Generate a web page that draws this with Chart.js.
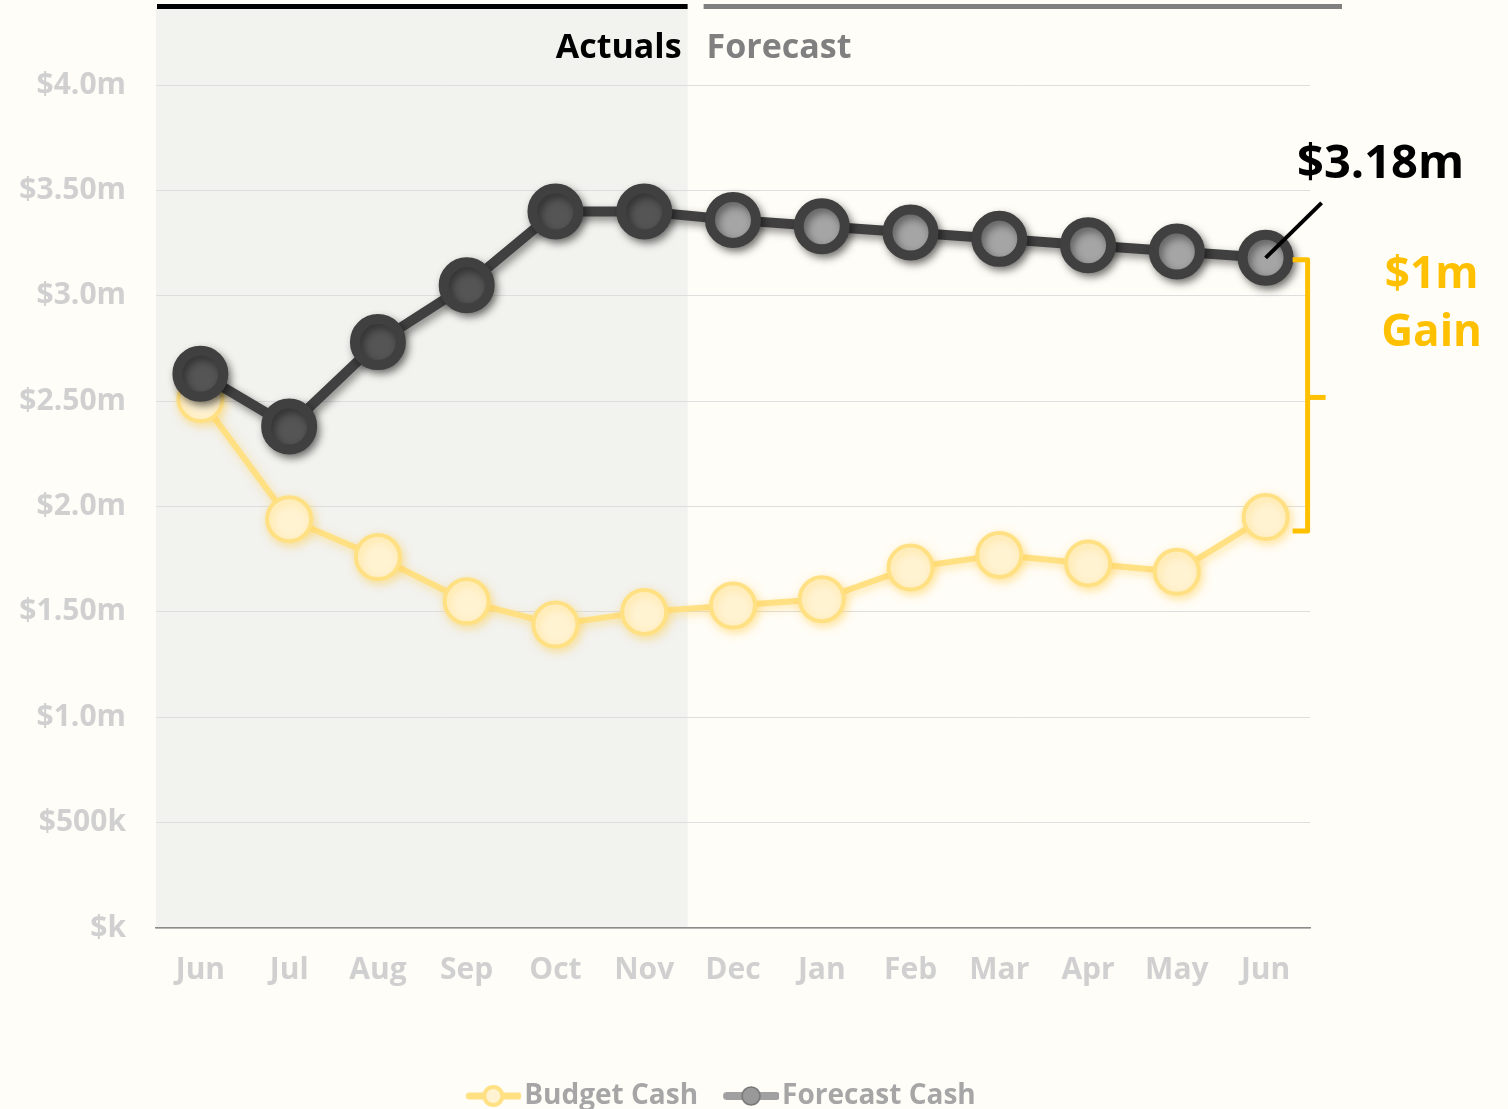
<!DOCTYPE html>
<html>
<head>
<meta charset="utf-8">
<script src="https://cdn.jsdelivr.net/npm/chart.js@4.4.1/dist/chart.umd.min.js"></script>
<style>
  html, body { margin: 0; padding: 0; background: #FFFDF7; }
  #wrap { width: 1508px; height: 1109px; }
</style>
</head>
<body>
<div id="wrap"><canvas id="grafica" width="1508" height="1109"></canvas></div>
<script>
// datos del grafico
const meses = ['Jun', 'Jul', 'Aug', 'Sep', 'Oct', 'Nov', 'Dec', 'Jan', 'Feb', 'Mar', 'Apr', 'May', 'Jun'];
const budgetCash = [2.51, 1.94, 1.76, 1.55, 1.44, 1.50, 1.53, 1.56, 1.71, 1.77, 1.73, 1.69, 1.95];
const forecastCash = [2.63, 2.38, 2.78, 3.05, 3.40, 3.40, 3.36, 3.33, 3.30, 3.27, 3.24, 3.21, 3.18];
const yTickLabels = ['$k', '$500k', '$1.0m', '$1.50m', '$2.0m', '$2.50m', '$3.0m', '$3.50m', '$4.0m'];
const mesesReales = 6; // Jun..Nov son actuals
const etiquetaFinal = '$3.18m';
const etiquetaGanancia = ['$1m', 'Gain'];

const fuente = "'Open Sans', 'DejaVu Sans', sans-serif";
const amarillo = '#FFC000';

// simbolos de la leyenda (linea con circulo), con margen transparente a la izquierda
const simbolo = (lineColor, lineW, fill, stroke, strokeW) => {
    let c = document.createElement('canvas');
    c.width = 88; c.height = 26;
    let g = c.getContext('2d');
    g.strokeStyle = lineColor; g.lineWidth = lineW; g.lineCap = 'round';
    g.beginPath(); g.moveTo(36, 13); g.lineTo(85, 13); g.stroke();
    g.beginPath(); g.arc(60, 13, 9, 0, Math.PI * 2);
    g.fillStyle = fill; g.fill();
    g.lineWidth = strokeW; g.strokeStyle = stroke; g.stroke();
    return c;
};
const simBudget = simbolo('#FFE083', 7, '#FFF3D2', '#FFE083', 4);
const simForecast = simbolo('#A0A0A0', 8, '#999999', '#777777', 1.5);

// fondo, zona de actuals y barras de arriba
const fondoPlugin = {
    id: 'fondo',
    beforeDraw(chart) {
        const ctx = chart.ctx, a = chart.chartArea, x = chart.scales.x;
        ctx.save();
        ctx.fillStyle = '#FFFDF7';
        ctx.fillRect(0, 0, chart.width, chart.height);
        const paso = x.getPixelForValue(1) - x.getPixelForValue(0);
        const corte = x.getPixelForValue(mesesReales - 1) + paso / 2 - 1;
        ctx.fillStyle = '#F2F2EE';
        ctx.fillRect(a.left, 8, corte - a.left, a.bottom - 8);
        ctx.fillStyle = '#000000';
        ctx.fillRect(a.left + 1, 4, corte - a.left - 1, 5);
        ctx.fillStyle = '#808080';
        ctx.fillRect(corte + 16, 4, a.right + 32 - corte - 16, 5);
        ctx.font = 'bold 34px ' + fuente;
        ctx.textBaseline = 'middle';
        ctx.textAlign = 'right';
        ctx.fillStyle = '#000000';
        ctx.fillText('Actuals', corte - 6, 48);
        ctx.textAlign = 'left';
        ctx.fillStyle = '#808080';
        ctx.fillText('Forecast', corte + 19, 48);
        ctx.restore();
    }
};

// sombras de las lineas y puntos
const sombraPlugin = {
    id: 'sombra',
    beforeDatasetDraw(chart, args) {
        const ctx = chart.ctx;
        ctx.save();
        if (args.index === 1) {
            ctx.shadowColor = 'rgba(0,0,0,0.45)';
            ctx.shadowBlur = 8;
            ctx.shadowOffsetX = 3;
            ctx.shadowOffsetY = 4;
        } else {
            ctx.shadowColor = 'rgba(255,210,80,0.5)';
            ctx.shadowBlur = 8;
            ctx.shadowOffsetX = 2;
            ctx.shadowOffsetY = 3;
        }
    },
    afterDatasetDraw(chart) {
        chart.ctx.restore();
    }
};

// anotaciones: etiqueta final y llave de ganancia
const notaPlugin = {
    id: 'nota',
    afterDraw(chart) {
        const ctx = chart.ctx, x = chart.scales.x, y = chart.scales.y;
        const n = meses.length - 1;
        const px = x.getPixelForValue(n);
        const yF = y.getPixelForValue(forecastCash[n]);
        const yB = y.getPixelForValue(budgetCash[n]);
        ctx.save();
        // linea de la etiqueta
        ctx.strokeStyle = '#000000';
        ctx.lineWidth = 4;
        ctx.beginPath();
        ctx.moveTo(px, yF);
        ctx.lineTo(px + 56, yF - 55);
        ctx.stroke();
        ctx.font = 'bold 47px ' + fuente;
        ctx.textAlign = 'center';
        ctx.textBaseline = 'middle';
        ctx.fillStyle = '#000000';
        ctx.fillText(etiquetaFinal, px + 115, yF - 93);
        // llave
        const bx = px + 42;
        const arriba = yF + 2, abajo = yB + 14;
        const mid = (arriba + abajo) / 2 + 2;
        ctx.strokeStyle = amarillo;
        ctx.lineWidth = 5;
        ctx.lineJoin = 'round';
        ctx.beginPath();
        ctx.moveTo(px + 27, arriba);
        ctx.lineTo(bx, arriba);
        ctx.lineTo(bx, abajo);
        ctx.lineTo(px + 27, abajo);
        ctx.stroke();
        ctx.beginPath();
        ctx.moveTo(bx, mid);
        ctx.lineTo(bx + 18, mid);
        ctx.stroke();
        ctx.fillStyle = amarillo;
        ctx.font = 'bold 44px ' + fuente;
        ctx.fillText(etiquetaGanancia[0], px + 166, yF + 18);
        ctx.fillText(etiquetaGanancia[1], px + 166, yF + 76);
        ctx.restore();
    }
};

const $grafica = document.querySelector('#grafica');

new Chart($grafica, {
    type: 'line',
    data: {
        labels: meses,
        datasets: [
            {
                label: 'Budget Cash',
                data: budgetCash,
                order: 2,
                borderColor: '#FFE083',
                borderWidth: 6,
                pointRadius: 22,
                pointHoverRadius: 22,
                pointBorderWidth: 4,
                pointBackgroundColor: '#FFF3D2',
                pointBorderColor: '#FFE083',
                tension: 0
            },
            {
                label: 'Forecast Cash',
                data: forecastCash,
                order: 1,
                borderColor: '#404040',
                borderWidth: 10,
                pointRadius: 23,
                pointHoverRadius: 23,
                pointBorderWidth: 10,
                pointBackgroundColor: (c) => c.dataIndex < mesesReales ? '#555555' : '#A5A5A5',
                pointBorderColor: '#404040',
                tension: 0
            }
        ]
    },
    options: {
        responsive: false,
        animation: false,
        events: [],
        layout: { padding: { top: 85, right: 88, left: 0, bottom: -11 } },
        scales: {
            x: {
                offset: true,
                grid: { display: false, drawTicks: false },
                border: { display: true, color: '#8C8C8C', width: 1.5 },
                ticks: {
                    color: '#D0D0D0',
                    font: { family: fuente, size: 30, weight: 'bold' },
                    padding: 24,
                    maxRotation: 0,
                    autoSkip: false
                },
                afterFit(scale) {
                    scale.height = 1109 - 928 - scale.chart.legend.height + 11;
                }
            },
            y: {
                min: 0,
                max: 4,
                grid: { color: '#DEDEDE', lineWidth: 1, drawTicks: false },
                border: { display: false },
                ticks: {
                    stepSize: 0.5,
                    color: '#D0D0D0',
                    font: { family: fuente, size: 30, weight: 'bold' },
                    padding: 30,
                    callback: (v) => yTickLabels[Math.round(v / 0.5)]
                },
                afterFit(scale) {
                    scale.width = 156;
                }
            },
            // eje vacio solo para dejar el margen derecho de las anotaciones
            margen: {
                type: 'linear',
                position: 'right',
                grid: { display: false, drawTicks: false },
                border: { display: false },
                ticks: { display: false },
                afterFit(scale) {
                    scale.width = 1508 - 88 - 1310;
                }
            }
        },
        plugins: {
            legend: {
                position: 'bottom',
                labels: {
                    usePointStyle: true,
                    pointStyleWidth: 66,
                    color: '#A6A6A6',
                    font: { family: fuente, size: 28, weight: 'bold' },
                    padding: 4,
                    generateLabels(chart) {
                        const items = Chart.defaults.plugins.legend.labels.generateLabels(chart);
                        items.sort((p, q) => p.datasetIndex - q.datasetIndex);
                        items.forEach((it) => { it.pointStyle = it.datasetIndex === 0 ? simBudget : simForecast; });
                        return items;
                    }
                }
            },
            tooltip: { enabled: false }
        }
    },
    plugins: [fondoPlugin, sombraPlugin, notaPlugin]
});
</script>
</body>
</html>
